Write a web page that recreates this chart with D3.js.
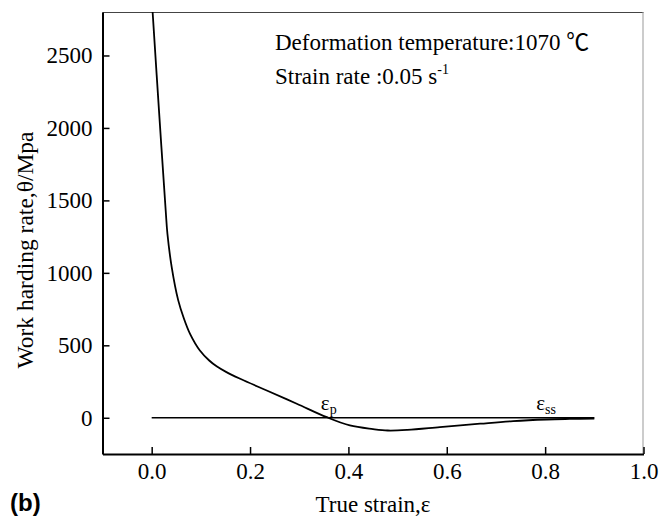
<!DOCTYPE html>
<html>
<head>
<meta charset="utf-8">
<script src="https://cdn.jsdelivr.net/npm/d3@7"></script>
<style>
  html, body { margin: 0; padding: 0; background: #fff; }
  svg { display: block; }
</style>
</head>
<body>
<svg id="chart" width="662" height="518"></svg>
<script>
// ---- data ----
const strain = [0.0, 0.002, 0.0148, 0.0285, 0.032, 0.0407, 0.054, 0.065, 0.078, 0.098, 0.117, 0.132, 0.152, 0.18, 0.234, 0.295, 0.356, 0.403, 0.45, 0.48, 0.52, 0.586, 0.668, 0.735, 0.803, 0.85, 0.9];
const theta  = [2900, 2795, 2123, 1430, 1270, 1040, 810, 690, 579, 464, 395, 355, 315, 269, 188, 97, 4, -53, -78, -88, -84, -65, -41, -23, -12, -8, -5];
const zeroLine = [[0, 0], [0.9, 0]];
const xTicks = [0.0, 0.2, 0.4, 0.6, 0.8, 1.0];
const yTicks = [0, 500, 1000, 1500, 2000, 2500];
const xDomain = [-0.1, 1.0];
const yDomain = [-250, 2800];

// ---- layout ----
const W = 662, H = 518;
const m = { left: 102.5, top: 12, right: 18.5, bottom: 64 };
const SERIF = '"Liberation Serif", "Times New Roman", serif';
const svg = d3.select("#chart");
const x = d3.scaleLinear().domain(xDomain).range([m.left, W - m.right]);
const y = d3.scaleLinear().domain(yDomain).range([H - m.bottom, m.top]);

svg.append("defs").append("clipPath").attr("id", "clip")
  .append("rect").attr("x", m.left).attr("y", m.top)
  .attr("width", W - m.left - m.right).attr("height", H - m.top - m.bottom);

// frame top & right
svg.append("line").attr("x1", m.left).attr("x2", W - m.right).attr("y1", m.top + 0.5).attr("y2", m.top + 0.5)
  .attr("stroke", "#444").attr("stroke-width", 1);
svg.append("line").attr("x1", W - m.right - 0.5).attr("x2", W - m.right - 0.5).attr("y1", m.top).attr("y2", H - m.bottom)
  .attr("stroke", "#999").attr("stroke-width", 1);

// axes
const xAxis = d3.axisBottom(x).tickValues(xTicks).tickFormat(d3.format(".1f")).tickSizeInner(-7).tickSizeOuter(0).tickPadding(9);
const yAxis = d3.axisLeft(y).tickValues(yTicks).tickFormat(d3.format("d")).tickSizeInner(-7).tickSizeOuter(0).tickPadding(10);

const gx = svg.append("g").attr("transform", `translate(0,${H - m.bottom})`).call(xAxis);
const gy = svg.append("g").attr("transform", `translate(${m.left},0)`).call(yAxis);
[gx, gy].forEach(g => {
  g.select(".domain").attr("stroke", "#000").attr("stroke-width", 2);
  g.selectAll(".tick line").attr("stroke", "#000").attr("stroke-width", 1.5);
  g.selectAll(".tick text").style("font-family", SERIF).style("font-size", "23px").attr("fill", "#000");
});

// zero line
const line = d3.line().x(d => x(d[0])).y(d => y(d[1]));
svg.append("path").datum(zeroLine).attr("d", line).attr("fill", "none").attr("stroke", "#000").attr("stroke-width", 1.5);

// curve
const pts = strain.map((s, i) => [s, theta[i]]);
svg.append("path").datum(pts).attr("clip-path", "url(#clip)")
  .attr("d", d3.line().x(d => x(d[0])).y(d => y(d[1])).curve(d3.curveCatmullRom.alpha(0.5)))
  .attr("fill", "none").attr("stroke", "#000").attr("stroke-width", 1.8);

// annotations
const ann = svg.append("g").style("font-family", SERIF).style("font-size", "23px");
const dt = ann.append("text").attr("x", 275).attr("y", 50);
dt.append("tspan").text("Deformation temperature:1070 ");
dt.append("tspan").style("font-family", '"Noto Sans CJK SC", "DejaVu Sans"').style("font-size", "23px").text("℃");
const sr = ann.append("text").attr("x", 275).attr("y", 84);
sr.append("tspan").text("Strain rate :0.05 s");
sr.append("tspan").style("font-size", "14px").attr("dy", -10).text("-1");

const ep = svg.append("text").attr("x", x(0.344)).attr("y", 410).style("font-family", SERIF).style("font-size", "21px");
ep.append("tspan").text("ε");
ep.append("tspan").style("font-size", "14px").attr("dy", 4).text("p");

const ess = svg.append("text").attr("x", x(0.782)).attr("y", 410).style("font-family", SERIF).style("font-size", "21px");
ess.append("tspan").text("ε");
ess.append("tspan").style("font-size", "14px").attr("dy", 4).text("ss");

// axis titles
svg.append("text").attr("x", 373).attr("y", 512).attr("text-anchor", "middle")
  .style("font-family", SERIF).style("font-size", "23px").text("True strain,ε");
svg.append("text").attr("transform", "translate(33,250) rotate(-90)").attr("text-anchor", "middle")
  .style("font-family", SERIF).style("font-size", "23.5px").text("Work harding rate,θ/Mpa");

// panel label
svg.append("text").attr("x", 10).attr("y", 511)
  .style("font-family", '"Liberation Sans", Arial, sans-serif').style("font-weight", "bold").style("font-size", "24px").text("(b)");
</script>
</body>
</html>
